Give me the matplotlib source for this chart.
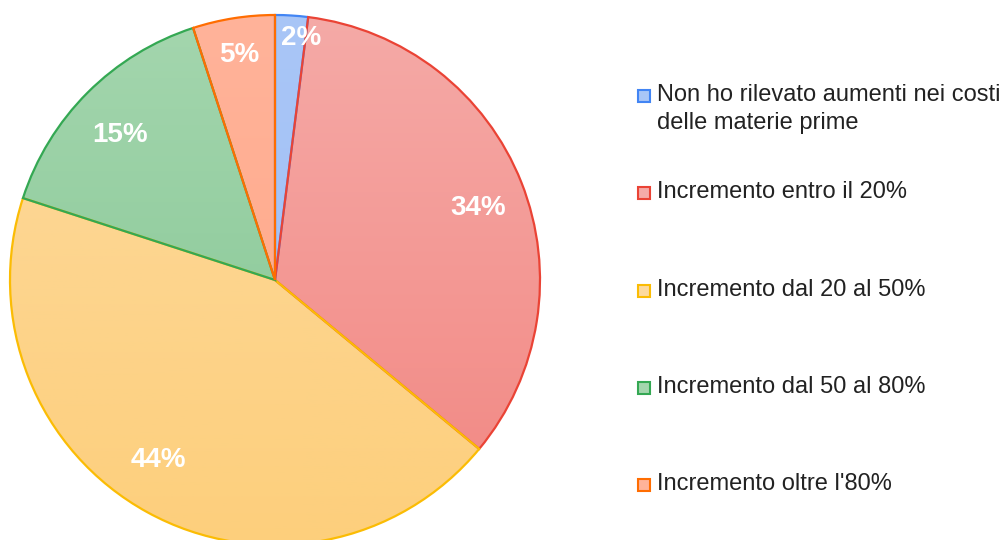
import matplotlib.pyplot as plt
import numpy as np
from matplotlib.colors import LinearSegmentedColormap

plt.rcParams["font.family"] = ["Liberation Sans", "DejaVu Sans"]

categories = [
    "Non ho rilevato aumenti nei costi\ndelle materie prime",
    "Incremento entro il 20%",
    "Incremento dal 20 al 50%",
    "Incremento dal 50 al 80%",
    "Incremento oltre l'80%",
]
shares = [2, 34, 44, 15, 5]

edge_colors = ["#4285F4", "#EA4335", "#FBBC04", "#34A853", "#FF6D01"]
fill_top = ["#A9C6F7", "#F5AAA7", "#FDDA9E", "#A4D6AE", "#FFB39A"]
fill_bottom = ["#9FBEF5", "#F28681", "#FDCF7C", "#82C591", "#FFA684"]
# label placement tweaks: radial fraction and angular shift (deg, clockwise)
label_radius = [0.92, 0.815, 0.81, 0.80, 0.86]
label_shift = [2.5, 2.0, 4.0, -2.0, 0.0]

W, H = 1008, 540
cx, cy, R = 275, H - 280, 265

fig = plt.figure(figsize=(W / 100, H / 100), dpi=100)
ax = fig.add_axes([0, 0, 1, 1])

wedges, _ = ax.pie(
    shares,
    center=(cx, cy),
    radius=R,
    startangle=90,
    counterclock=False,
    colors=fill_top,
    wedgeprops=dict(linewidth=0),
    frame=True,
)

# vertical gradient inside each slice
grad = np.linspace(1, 0, 256).reshape(-1, 1)
for w, top, bot, edge in zip(wedges, fill_top, fill_bottom, edge_colors):
    cmap = LinearSegmentedColormap.from_list("g", [bot, top])
    im = ax.imshow(grad, cmap=cmap, vmin=0, vmax=1, aspect="auto",
                   extent=[cx - R, cx + R, cy - R, cy + R], origin="upper",
                   zorder=2)
    im.set_clip_path(w)
    w.set_facecolor("none")
    w.set_edgecolor(edge)
    w.set_linewidth(1.6)
    w.set_zorder(3)

ax.set_xlim(0, W)
ax.set_ylim(0, H)
ax.set_aspect("equal")
ax.axis("off")

for w, s, r, d in zip(wedges, shares, label_radius, label_shift):
    mid = np.deg2rad((w.theta1 + w.theta2) / 2 - d)
    ax.text(cx + r * R * np.cos(mid), cy + r * R * np.sin(mid), f"{s}%",
            color="white", fontsize=20, fontweight="bold",
            ha="center", va="center", zorder=4)

# legend
leg_x, leg_y0, leg_step, line_gap = 638, H - 96, 97.3, 28
for i, (name, top, edge) in enumerate(zip(categories, fill_top, edge_colors)):
    y = leg_y0 - i * leg_step
    ax.add_patch(plt.Rectangle((leg_x, y - 6), 12, 12, facecolor=top,
                               edgecolor=edge, linewidth=1.5, zorder=4))
    for j, line in enumerate(name.split("\n")):
        ax.text(leg_x + 19, y + 1 - j * line_gap, line, fontsize=17,
                color="#222222", ha="left", va="center", zorder=4)

fig.savefig("out.png", dpi=100)
